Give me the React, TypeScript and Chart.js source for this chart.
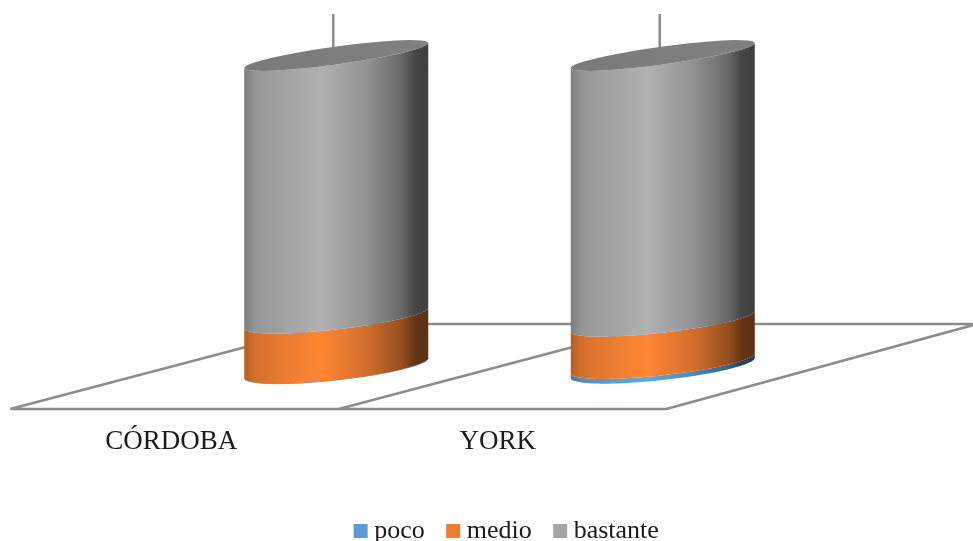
import React, { useEffect, useRef } from "react";
import { Chart, registerables } from "chart.js";

Chart.register(...registerables);

const categories = ["CÓRDOBA", "YORK"];
const poco = [0, 1.5];
const medio = [16, 13.5];
const bastante = [84, 85];
const seriesNames = ["poco", "medio", "bastante"];
const seriesColors = ["#5b9bd5", "#ed7d31", "#a5a5a5"];

const FONT = "'Liberation Serif', serif";
const FLOOR_COLOR = "#8c8c8c";

// Brightness across a cylinder's side, left edge to right edge.
const SHADE_STOPS: [number, number][] = [
  [0, 0.76],
  [0.06, 0.9],
  [0.25, 1.0],
  [0.42, 1.07],
  [0.67, 0.88],
  [0.85, 0.64],
  [0.93, 0.42],
  [1, 0.38],
];

function shade(hex: string, f: number) {
  const n = parseInt(hex.slice(1), 16);
  const c = (v: number) => Math.min(255, Math.round(v * f));
  return `rgb(${c((n >> 16) & 255)},${c((n >> 8) & 255)},${c(n & 255)})`;
}

// The tilted rim of a cylinder at one height. Rims lower down are seen more
// from above, so they open wider and lean a little less.
function rimPath(
  ctx: CanvasRenderingContext2D,
  area: { top: number; bottom: number },
  cx: number,
  cy: number,
  a: number,
  from: number,
  to: number,
  move: boolean,
) {
  const depth = (cy - area.top) / (area.bottom - area.top);
  const tilt = 0.136 - 0.027 * depth;
  const b = 9 + 3 * depth;
  const steps = 48;
  for (let i = 0; i <= steps; i++) {
    const t = from + ((to - from) * i) / steps;
    const x = cx + a * Math.cos(t);
    const y = cy + b * Math.sin(t) - tilt * a * Math.cos(t);
    if (i === 0 && move) ctx.moveTo(x, y);
    else ctx.lineTo(x, y);
  }
}

const cylinders = {
  id: "cylinders",
  beforeDatasetDraw() {
    return false;
  },
  beforeDatasetsDraw(chart: any) {
    // Floor of the 3D plot, with one depth line per category boundary.
    const { ctx, scales } = chart;
    const x = scales.x;
    const step = x.getPixelForValue(1) - x.getPixelForValue(0);
    const yFront = scales.y.getPixelForValue(0) + 41;
    const yBack = scales.y.getPixelForValue(0) - 44;
    const xBackStart = x.getPixelForValue(0) - 3;
    const xFrontStart = xBackStart - 323;
    ctx.save();
    ctx.strokeStyle = FLOOR_COLOR;
    ctx.lineWidth = 2.5;
    ctx.lineJoin = "round";
    ctx.beginPath();
    ctx.moveTo(xFrontStart, yFront);
    ctx.lineTo(xFrontStart + 2 * step + 3, yFront);
    ctx.lineTo(chart.width + 4, yBack);
    ctx.lineTo(xBackStart, yBack);
    ctx.lineTo(xFrontStart, yFront);
    for (const i of [0, 1]) {
      ctx.moveTo(xBackStart + i * step, 14);
      ctx.lineTo(xBackStart + i * step, yBack);
    }
    ctx.moveTo(xFrontStart + step + 2, yFront);
    ctx.lineTo(xBackStart + step, yBack);
    ctx.stroke();
    ctx.restore();
  },
  afterDatasetsDraw(chart: any) {
    const { ctx, chartArea } = chart;
    const count = chart.data.labels.length;
    const sets = chart.data.datasets.length;
    for (let c = 0; c < count; c++) {
      for (let s = 0; s < sets; s++) {
        const bar = chart.getDatasetMeta(s).data[c];
        const { x, y, base, width } = bar.getProps(["x", "y", "base", "width"], true);
        const a = width / 2;
        const color = seriesColors[s];
        const grad = ctx.createLinearGradient(x - a, 0, x + a, 0);
        for (const [p, f] of SHADE_STOPS) grad.addColorStop(p, shade(color, f));
        if (Math.abs(base - y) < 0.01) {
          // An empty segment only leaves a hairline on the rim.
          ctx.beginPath();
          rimPath(ctx, chartArea, x, base, a, 0, Math.PI, true);
          ctx.strokeStyle = color;
          ctx.lineWidth = 1;
          ctx.stroke();
          continue;
        }
        ctx.beginPath();
        rimPath(ctx, chartArea, x, y, a, Math.PI, 0, true);
        rimPath(ctx, chartArea, x, base, a, 0, Math.PI, false);
        ctx.closePath();
        ctx.fillStyle = grad;
        ctx.fill();
        if (s === sets - 1) {
          ctx.beginPath();
          rimPath(ctx, chartArea, x, y, a, 0, Math.PI * 2, true);
          ctx.closePath();
          const cap = ctx.createLinearGradient(x - a, 0, x + a, 0);
          cap.addColorStop(0, shade(color, 0.74));
          cap.addColorStop(1, shade(color, 0.78));
          ctx.fillStyle = cap;
          ctx.fill();
        }
      }
    }
  },
  afterLayout(chart: any) {
    // The legend sits lower and further right than the plot's own centre.
    const legend = chart.legend;
    legend.top += 13;
    legend.bottom += 13;
    legend.left += 10;
    legend.right += 10;
  },
};

export default function App() {
  const ref = useRef<HTMLCanvasElement>(null);
  useEffect(() => {
    const chart = new Chart(ref.current!, {
      type: "bar",
      data: {
        labels: categories,
        datasets: [poco, medio, bastante].map((values, i) => ({
          label: seriesNames[i],
          data: values,
          backgroundColor: seriesColors[i],
          borderWidth: 0,
          categoryPercentage: 1,
          barPercentage: 0.5636,
        })),
      },
      options: {
        responsive: false,
        animation: false,
        layout: { padding: { left: 173, right: 147, top: 55.5, bottom: 0 } },
        plugins: {
          tooltip: { enabled: false },
          legend: {
            position: "bottom",
            labels: {
              usePointStyle: true,
              pointStyle: "rect",
              boxWidth: 1,
              boxHeight: 14,
              padding: 28,
              color: "#1a1a1a",
              font: { family: FONT, size: 26 },
            },
          },
        },
        scales: {
          x: {
            stacked: true,
            grid: { display: false },
            border: { display: false },
            afterFit(scale: any) {
              scale.height = 109;
            },
            ticks: {
              labelOffset: -165,
              padding: 50,
              maxRotation: 0,
              autoSkip: false,
              color: "#1a1a1a",
              font: { family: FONT, size: 27 },
            },
          },
          y: { stacked: true, display: false, min: 0, max: 100 },
        },
      },
      plugins: [cylinders],
    } as any);
    return () => chart.destroy();
  }, []);
  return (
    <div style={{ position: "absolute", left: 0, top: 0, width: 973, height: 541, background: "#fff" }}>
      <canvas ref={ref} width={973} height={541} style={{ display: "block" }} />
    </div>
  );
}
